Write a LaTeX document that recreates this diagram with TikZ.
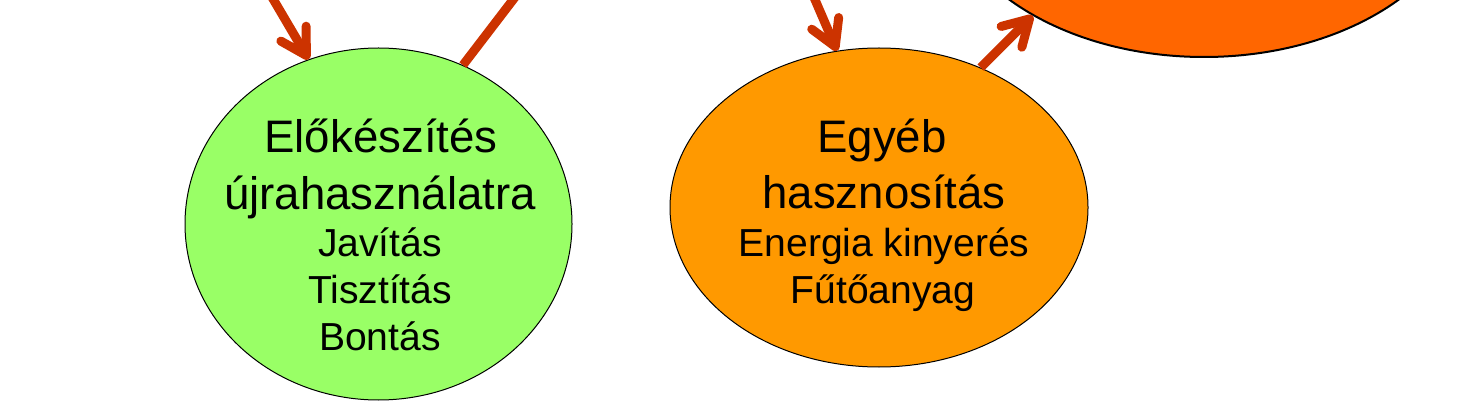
\documentclass[tikz,border=0pt]{standalone}
\usepackage{fontspec}
\setmainfont{Liberation Sans}
\usetikzlibrary{arrows.meta,shapes.geometric}
\definecolor{greenfill}{HTML}{99FF66}
\definecolor{orangefill}{HTML}{FF9900}
\definecolor{bigfill}{HTML}{FF6600}
\definecolor{arrowc}{HTML}{CC3300}
\tikzset{
  blob/.style={ellipse, draw=black, line width=0.75pt, inner sep=0pt},
  bigtext/.style={anchor=base, inner sep=0pt, font=\fontsize{34.2pt}{40pt}\selectfont},
  smalltext/.style={anchor=base, inner sep=0pt, font=\fontsize{29.3pt}{35pt}\selectfont},
  flow/.style={draw=arrowc, line width=6.75pt},
  flowtip/.style={flow, -{Straight Barb[length=19pt, width=22pt, round]}}
}
\begin{document}
\begin{tikzpicture}[x=0.75pt,y=-0.75pt]
\useasboundingbox (0,0) rectangle (1462,413);
\clip (0,0) rectangle (1462,413);

% ellipses
\node[blob, fill=greenfill, minimum width=290.25pt, minimum height=264pt] (green) at (378.5,224) {};
\node[blob, fill=orangefill, minimum width=313.5pt, minimum height=239.25pt] (orange) at (879,207.5) {};
\node[blob, fill=bigfill, line width=1.5pt, minimum width=399pt, minimum height=270pt] (big) at (1204,-123) {};

% texts in green
\node[bigtext] (g1) at (381,152.5) {Előkészítés};
\node[bigtext] (g2) at (380,209.5) {újrahasználatra};
\node[smalltext] (g3) at (380,256.5) {Javítás};
\node[smalltext] (g4) at (380,303.5) {Tisztítás};
\node[smalltext] (g5) at (380,350.5) {Bontás};

% texts in orange
\node[bigtext] (o1) at (882,152.5) {Egyéb};
\node[bigtext] (o2) at (884,208.5) {hasznosítás};
\node[smalltext] (o3) at (884,256.5) {Energia kinyerés};
\node[smalltext] (o4) at (883,303.5) {Fűtőanyag};

% connector ends outside the picture
\coordinate (a1s) at (256,-30);
\coordinate (a2e) at (538.5,-33.5);
\coordinate (a3s) at (805,-23.5);

% connectors
\draw[flowtip] (a1s) -- (green.113.4);
\draw[flow] (green.62) -- (a2e);
\draw[flowtip] (a3s) -- (orange.105.8);
\draw[flowtip] (orange.54.7) -- (big.-141.1);
\end{tikzpicture}
\end{document}
